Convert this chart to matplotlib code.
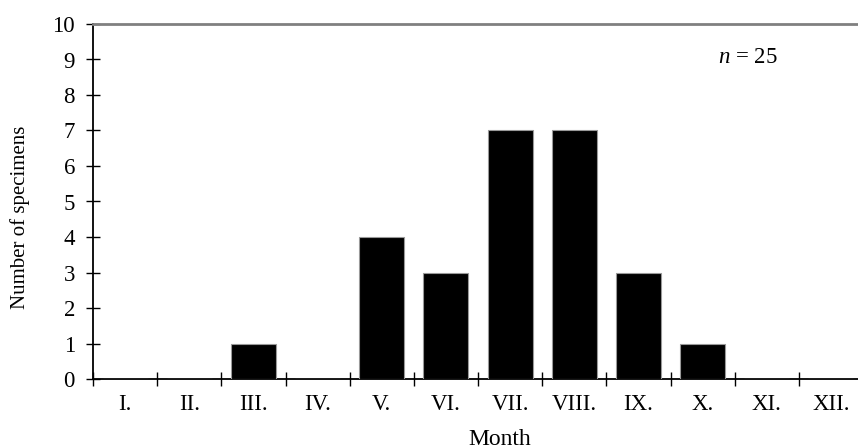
import numpy as np
import matplotlib
matplotlib.use("Agg")
import matplotlib.pyplot as plt

months = ["I.", "II.", "III.", "IV.", "V.", "VI.", "VII.", "VIII.", "IX.", "X.", "XI.", "XII."]
counts = [0, 0, 1, 0, 4, 3, 7, 7, 3, 1, 0, 0]
n_total = 25

plt.rcParams['font.family'] = ['Liberation Serif', 'DejaVu Serif']
plt.rcParams['mathtext.fontset'] = 'custom'
plt.rcParams['mathtext.it'] = 'Liberation Serif:italic'
plt.rcParams['mathtext.rm'] = 'Liberation Serif'

W, H = 858, 448
fig = plt.figure(figsize=(W / 100, H / 100), dpi=100)
left, right, top, bottom = 93, 863, 24, 379
ax = fig.add_axes([left / W, 1 - bottom / H, (right - left) / W, (bottom - top) / H])

x = np.arange(len(months))
ax.bar(x, counts, width=0.7, color="black", edgecolor="#999999", linewidth=0.8, zorder=3)

ax.set_xlim(-0.5, len(months) - 0.5)
ax.set_ylim(0, 10)
ax.set_yticks(range(11))

# month labels centred, boundary ticks between months
ax.set_xticks(x)
ax.set_xticklabels(months, fontsize=16.5)
ax.set_xticks(np.arange(-0.5, len(months) - 0.5, 1), minor=True)
ax.tick_params(axis="x", which="major", length=0, pad=11)
ax.tick_params(axis="x", which="minor", direction="inout", length=10, width=1)
ax.tick_params(axis="y", direction="inout", length=10, width=1, labelsize=16.5, pad=8)

ax.spines["right"].set_visible(False)
ax.spines["left"].set_linewidth(1.3)
ax.spines["bottom"].set_linewidth(1.3)
ax.spines["top"].set_color("#808080")
ax.spines["top"].set_linewidth(2)

ax.text(9.71, 9.05, "$n$ = %d" % n_total, fontsize=16.5, ha="center", va="center")

fig.text(500 / W, 1 - 439 / H, "Month", fontsize=17, ha="center", va="center")
fig.text(20 / W, 1 - 217 / H, "Number of specimens", fontsize=15, ha="center", va="center", rotation=90)

fig.savefig("out.png", dpi=100)
